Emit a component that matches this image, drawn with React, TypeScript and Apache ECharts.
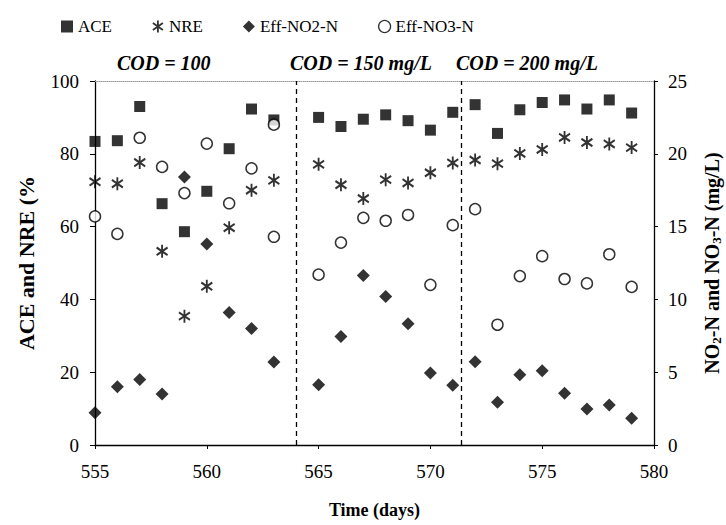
import React, { useEffect, useRef } from "react";
import * as echarts from "echarts";

const days = [555, 556, 557, 558, 559, 560, 561, 562, 563, 565, 566, 567, 568, 569, 570, 571, 572, 573, 574, 575, 576, 577, 578, 579];
const aceValues = [83.4, 83.6, 93, 66.3, 58.6, 69.7, 81.4, 92.3, 89.3, 90, 87.5, 89.5, 90.7, 89.1, 86.5, 91.4, 93.5, 85.6, 92.1, 94.1, 94.8, 92.3, 94.8, 91.2];
const nreValues = [72.3, 71.8, 77.6, 53.2, 35.4, 43.6, 59.7, 70, 72.7, 77.1, 71.5, 67.7, 72.9, 72, 74.8, 77.5, 78.3, 77.3, 80.1, 81.2, 84.5, 83.1, 82.7, 81.7];
const no2Values = [2.22, 4.0, 4.5, 3.5, 18.4, 13.8, 9.1, 8.0, 5.7, 4.13, 7.46, 11.64, 10.2, 8.33, 4.94, 4.1, 5.72, 2.94, 4.82, 5.1, 3.56, 2.48, 2.75, 1.84];
const no3Values = [15.7, 14.5, 21.1, 19.1, 17.3, 20.7, 16.6, 19.0, 14.3, 11.7, 13.9, 15.6, 15.4, 15.8, 11.0, 15.1, 16.2, 8.26, 11.6, 12.97, 11.4, 11.1, 13.1, 10.86];
const no3ExtraDays = [563];
const no3ExtraValues = [22.0];
const phaseBoundaries = [564, 571.4];
const codLabels = ["COD = 100", "COD = 150 mg/L", "COD = 200 mg/L"];
const xTicks = { min: 555, max: 580, interval: 5 };
const leftTicks = { min: 0, max: 100, interval: 20 };
const rightTicks = { min: 0, max: 25, interval: 5 };

const FONT = "'Liberation Serif', 'Times New Roman', serif";
const ASTERISK = "path://M5,0 L5,12 M0,2.5 L10,9.5 M0,9.5 L10,2.5";

export default function App() {
  const ref = useRef<HTMLDivElement>(null);
  useEffect(() => {
    if (!ref.current) return;
    document.body.style.margin = "0";
    const chart = echarts.init(ref.current, null, { renderer: "svg" });
    const pair = (xs: number[], ys: number[]) => xs.map((d, i) => [d, ys[i]]);
    const no3Data = pair(days, no3Values).concat(pair(no3ExtraDays, no3ExtraValues));
    const axisLine = { show: true, onZero: false, lineStyle: { color: "#000", width: 1.3 } };
    const axisLabel = { color: "#000", fontFamily: FONT, fontSize: 19 };
    const codFont = `italic bold 20px ${FONT}`;
    chart.setOption({
      animation: false,
      backgroundColor: "#fff",
      textStyle: { fontFamily: FONT, color: "#000" },
      legend: {
        top: 13,
        left: 56,
        itemGap: 40,
        itemWidth: 12,
        itemHeight: 12,
        textStyle: { fontFamily: FONT, fontSize: 17, color: "#000" },
        data: [
          { name: "ACE", icon: "rect", itemStyle: { color: "#000" } },
          { name: "NRE", icon: ASTERISK, itemStyle: { color: "#000", borderColor: "#000", borderWidth: 1.8 } },
          { name: "Eff-NO2-N", icon: "diamond", itemStyle: { color: "#000" } },
          { name: "Eff-NO3-N", icon: "circle", itemStyle: { color: "#fff", borderColor: "#000", borderWidth: 1.3 } },
        ],
      },
      grid: { left: 95, right: 72, top: 81, bottom: 80, containLabel: false, outerBoundsMode: "none" },
      xAxis: [
        {
          type: "value",
          position: "bottom",
          min: xTicks.min,
          max: xTicks.max,
          interval: xTicks.interval,
          name: "Time (days)",
          nameLocation: "middle",
          nameGap: 56,
          nameTextStyle: { fontFamily: FONT, fontSize: 18, fontWeight: "bold", color: "#000" },
          axisLine,
          axisTick: { show: true, inside: false, length: 4, lineStyle: { color: "#000" } },
          axisLabel: { ...axisLabel, margin: 17 },
          splitLine: { show: false },
        },
        {
          type: "value",
          position: "top",
          min: xTicks.min,
          max: xTicks.max,
          interval: xTicks.interval,
          axisLine: { show: true, onZero: false, lineStyle: { color: "#999", width: 1, type: "dotted" } },
          axisTick: { show: false },
          axisLabel: { show: false },
          splitLine: { show: false },
        },
      ],
      yAxis: [
        {
          type: "value",
          position: "left",
          min: leftTicks.min,
          max: leftTicks.max,
          interval: leftTicks.interval,
          name: "ACE and NRE (%",
          nameLocation: "middle",
          nameGap: 58,
          nameRotate: 90,
          nameTextStyle: { fontFamily: FONT, fontSize: 22, fontWeight: "bold", color: "#000" },
          axisLine,
          axisTick: { show: true, length: 5, lineStyle: { color: "#000" } },
          axisLabel: { ...axisLabel, margin: 16 },
          splitLine: { show: false },
        },
        {
          type: "value",
          position: "right",
          min: rightTicks.min,
          max: rightTicks.max,
          interval: rightTicks.interval,
          name: "NO{sub|2}-N and NO{sub|3}-N (mg/L)",
          nameLocation: "middle",
          nameGap: 47,
          nameRotate: 90,
          nameTextStyle: {
            fontFamily: FONT,
            fontSize: 20,
            fontWeight: "bold",
            color: "#000",
            lineHeight: 22,
            rich: {
              sub: { fontFamily: FONT, fontSize: 13, fontWeight: "bold", color: "#000", lineHeight: 22, verticalAlign: "bottom" },
            },
          },
          axisLine,
          axisTick: { show: true, length: 4, lineStyle: { color: "#000" } },
          axisLabel: { ...axisLabel, margin: 14 },
          splitLine: { show: false },
        },
      ],
      graphic: [
        { type: "text", left: 117, top: 53, style: { text: codLabels[0], font: codFont, fill: "#000" } },
        { type: "text", left: 290, top: 53, style: { text: codLabels[1], font: codFont, fill: "#000" } },
        { type: "text", left: 456, top: 53, style: { text: codLabels[2], font: codFont, fill: "#000" } },
      ],
      series: [
        {
          name: "ACE",
          type: "scatter",
          yAxisIndex: 0,
          symbol: "rect",
          symbolSize: 11,
          itemStyle: { color: "#000" },
          data: pair(days, aceValues),
          markLine: {
            silent: true,
            symbol: "none",
            label: { show: false },
            lineStyle: { color: "#000", type: [5, 4], width: 1.3 },
            data: phaseBoundaries.map((x) => ({ xAxis: x })),
          },
        },
        {
          name: "NRE",
          type: "scatter",
          yAxisIndex: 0,
          symbol: ASTERISK,
          symbolSize: [11, 13],
          itemStyle: { color: "#000", borderColor: "#000", borderWidth: 2 },
          data: pair(days, nreValues),
        },
        {
          name: "Eff-NO2-N",
          type: "scatter",
          yAxisIndex: 1,
          symbol: "diamond",
          symbolSize: 13,
          itemStyle: { color: "#000" },
          data: pair(days, no2Values),
        },
        {
          name: "Eff-NO3-N",
          type: "scatter",
          yAxisIndex: 1,
          symbol: "circle",
          symbolSize: 11,
          itemStyle: { color: "#fff", borderColor: "#000", borderWidth: 1.5 },
          data: no3Data,
        },
      ],
    });
    return () => chart.dispose();
  }, []);
  return <div ref={ref} style={{ width: 726, height: 525 }} />;
}
